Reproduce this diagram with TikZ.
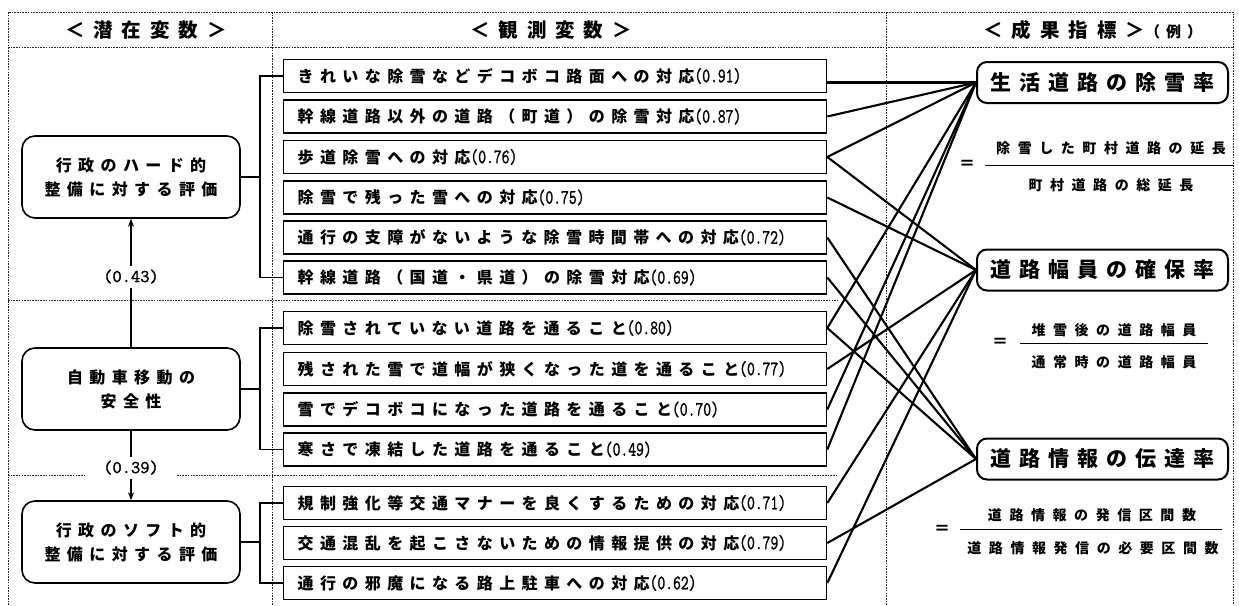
\documentclass[tikz,border=0pt]{standalone}
\usepackage{fontspec}
\usepackage{graphicx}
\newfontfamily\jp{Noto Sans CJK JP}[LetterSpace=40]
\newfontfamily\numfont{Latin Modern Mono}[FakeBold=1.5]
\usetikzlibrary{arrows.meta}
\newcommand\numtt[1]{\scalebox{0.74}[1]{\numfont\fontsize{20.5}{21}\selectfont #1}}
\newcommand\midfont{\jp\bfseries\fontsize{16}{18}\selectfont}
\newcommand\latfont{\jp\bfseries\fontsize{16}{24}\selectfont}
\newcommand\kpifont{\jp\bfseries\addfontfeature{LetterSpace=38}\fontsize{21}{24}\selectfont}
\newcommand\fracfont{\jp\bfseries\addfontfeature{LetterSpace=54}\fontsize{14}{16}\selectfont}
\newcommand\headfont{\jp\bfseries\addfontfeature{LetterSpace=46}\fontsize{19.5}{22}\selectfont}
\newcommand\smallhead{\jp\bfseries\addfontfeature{LetterSpace=40}\fontsize{15}{18}\selectfont}
\begin{document}
\begin{tikzpicture}[x=1pt,y=-1pt,
  frameline/.style={line width=0.8pt, dash pattern=on 1.6pt off 1.1pt, black!85},
  obs/.style={draw, line width=1.3pt, anchor=west, minimum height=33pt,
    text width=515pt, inner xsep=14pt, inner ysep=0pt, align=left, font=\midfont},
  lat/.style={draw, line width=1.6pt, rounded corners=13pt, minimum width=218pt,
    minimum height=82pt, align=center, font=\latfont},
  kpi/.style={draw, line width=2pt, rounded corners=10pt, minimum width=251pt,
    minimum height=41pt, inner sep=0pt, font=\kpifont},
  frac/.style={inner sep=0pt, font=\fracfont},
  eqs/.style={inner sep=0pt, font=\jp\bfseries\fontsize{16}{18}\selectfont},
  brk/.style={line width=1.6pt},
  conn/.style={line width=2.1pt},
  arr/.style={line width=2pt, -{Stealth[length=8pt,width=6pt]}},
  coef/.style={fill=white, inner xsep=2pt, inner ysep=4pt, font=\numfont\fontsize{18}{20}\selectfont},
  fbar/.style={line width=1pt}
]
\useasboundingbox (0,0) rectangle (1239,605);
\fill[white] (0,0) rectangle (1239,605);

% frame
\draw[frameline] (8,605) -- (8,12) -- (1233,12) -- (1233,605);
\draw[frameline] (8,47) -- (1233,47);
\draw[frameline] (272,12) -- (272,605);
\draw[frameline] (886,12) -- (886,605);
\draw[frameline] (8,300) -- (837,300);
\draw[frameline] (8,475) -- (85,475);
\draw[frameline] (177,475) -- (837,475);

% headers
\node[font=\headfont, inner sep=0pt] (h1) at (146,30) {＜潜在変数＞};
\node[font=\headfont, inner sep=0pt] (h2) at (551,30) {＜観測変数＞};
\node[font=\headfont, inner sep=0pt, anchor=west] (h3) at (983,30) {＜成果指標＞\smallhead （例）};

% latent variables
\node[lat] (L1) at (131,177) {行政のハード的\\整備に対する評価};
\node[lat] (L2) at (131,389) {自動車移動の\\安全性};
\node[lat] (L3) at (131,542) {行政のソフト的\\整備に対する評価};

% observed variables
\node[obs] (o1) at (283,76) {きれいな除雪などデコボコ路面への対応\numtt{(0.91)}};
\node[obs] (o2) at (283,116.5) {幹線道路以外の道路（町道）の除雪対応\numtt{(0.87)}};
\node[obs] (o3) at (283,157) {歩道除雪への対応\numtt{(0.76)}};
\node[obs] (o4) at (283,197.5) {除雪で残った雪への対応\numtt{(0.75)}};
\node[obs] (o5) at (283,237.5) {通行の支障がないような除雪時間帯への対応\numtt{(0.72)}};
\node[obs] (o6) at (283,277.5) {幹線道路（国道・県道）の除雪対応\numtt{(0.69)}};
\node[obs] (o7) at (283,328) {除雪されていない道路を通ること\numtt{(0.80)}};
\node[obs] (o8) at (283,369) {残された雪で道幅が狭くなった道を通ること\numtt{(0.77)}};
\node[obs] (o9) at (283,409.5) {雪でデコボコになった道路を通ること\numtt{(0.70)}};
\node[obs] (o10) at (283,449.5) {寒さで凍結した道路を通ること\numtt{(0.49)}};
\node[obs] (o11) at (283,503) {規制強化等交通マナーを良くするための対応\numtt{(0.71)}};
\node[obs] (o12) at (283,543) {交通混乱を起こさないための情報提供の対応\numtt{(0.79)}};
\node[obs] (o13) at (283,583) {通行の邪魔になる路上駐車への対応\numtt{(0.62)}};

% brackets
\coordinate (bx) at (260,0);
\draw[brk] (o1.west) -| (bx |- o6.west) -- (o6.west);
\draw[brk] (L1.east) -- (L1.east -| bx);
\draw[brk] (o7.west) -| (bx |- o10.west) -- (o10.west);
\draw[brk] (L2.east) -- (L2.east -| bx);
\draw[brk] (o11.west) -| (bx |- o13.west) -- (o13.west);
\draw[brk] (L3.east) -- (L3.east -| bx);

% latent arrows
\draw[arr] (L2.north) -- node[coef, pos=0.55] (c1) {(0.43)} (L1.south);
\draw[arr] (L2.south) -- node[coef, pos=0.53] (c2) {(0.39)} (L3.north);

% indicators
\node[kpi] (A) at (1102.5,82.5) {生活道路の除雪率};
\node[kpi] (B) at (1102.5,270) {道路幅員の確保率};
\node[kpi] (C) at (1102.5,459) {道路情報の伝達率};

% fractions
\node[eqs] (e1) at (967,165) {＝};
\node[frac] (n1) at (1111,148) {除雪した町村道路の延長};
\node[frac] (d1) at (1111,185) {町村道路の総延長};
\draw[fbar] (985,165) -- (1233,165);
\node[eqs] (e2) at (1000,343) {＝};
\node[frac] (n2) at (1114,330) {堆雪後の道路幅員};
\node[frac] (d2) at (1114,362) {通常時の道路幅員};
\draw[fbar] (1020,343) -- (1208,343);
\node[eqs] (e3) at (942,530) {＝};
\node[frac] (n3) at (1092,515) {道路情報の発信区間数};
\node[frac] (d3) at (1093,548) {道路情報発信の必要区間数};
\draw[fbar] (960,529) -- (1222,529);

% connectors
\draw[conn] (A.west -| o1.east) -- (A.west);
\draw[conn] (o2.east) -- (A.west);
\draw[conn] (o3.east) -- (A.west);
\draw[conn] (o7.east) -- (A.west);
\draw[conn] (o9.east) -- (A.west);
\draw[conn] (o10.east) -- (A.west);
\draw[conn] (o3.east) -- (B.west);
\draw[conn] (o4.east) -- (B.west);
\draw[conn] (o8.east) -- (B.west);
\draw[conn] (o11.east) -- (B.west);
\draw[conn] (o13.east) -- (B.west);
\draw[conn] (o5.east) -- (C.west);
\draw[conn] (o6.east) -- (C.west);
\draw[conn] (o7.east) -- (C.west);
\draw[conn] (o12.east) -- (C.west);
\end{tikzpicture}
\end{document}
